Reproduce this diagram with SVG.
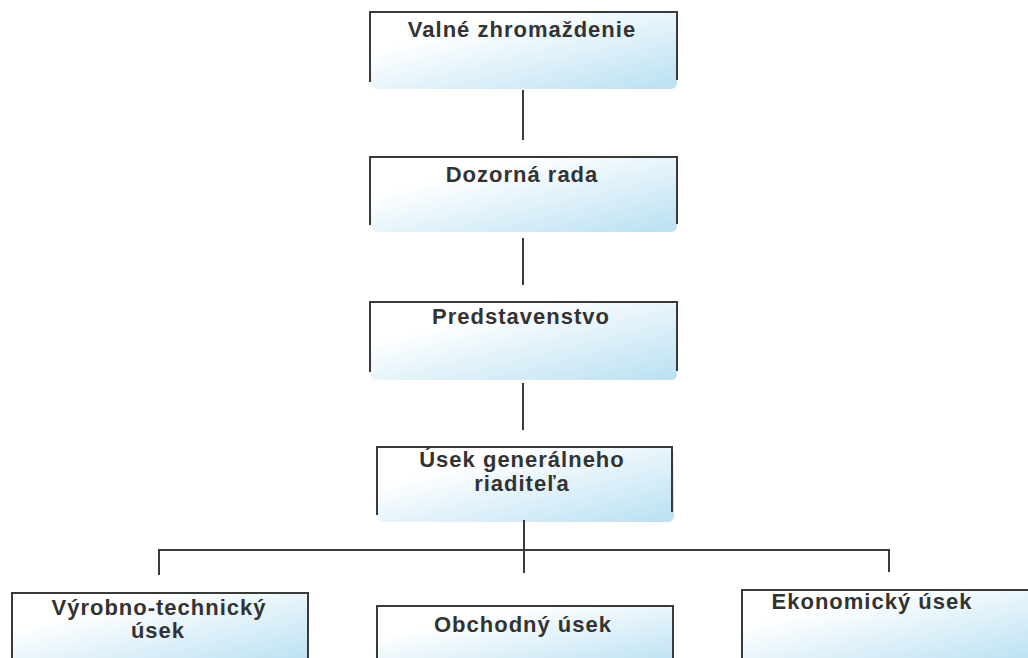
<svg xmlns="http://www.w3.org/2000/svg" width="1028" height="658" viewBox="0 0 1028 658">
<defs>
<linearGradient id="g" x1="0" y1="0" x2="1" y2="1">
<stop offset="0.25" stop-color="#ffffff"/>
<stop offset="1" stop-color="#b9e0f2"/>
</linearGradient>
<style>
.b{fill:none;stroke:#3a3a3a;stroke-width:2}
.f{fill:url(#g)}
.t{font-family:"Liberation Sans",Arial,sans-serif;font-weight:bold;font-size:22px;letter-spacing:1px;fill:#333;text-anchor:middle}
.c{fill:none;stroke:#3a3a3a;stroke-width:2}
</style>
</defs>
<rect width="1028" height="658" fill="#fff"/>
<g id="n1">
<rect class="f" x="371" y="13" width="306" height="76" rx="6"/>
<path class="b" d="M370 82V12H677V80"/>
<text class="t" x="522" y="37">Valné zhromaždenie</text>
</g>
<g id="n2">
<rect class="f" x="371" y="158" width="306" height="74" rx="6"/>
<path class="b" d="M370 225V157H677V224"/>
<text class="t" x="522" y="182">Dozorná rada</text>
</g>
<g id="n3">
<rect class="f" x="371" y="303" width="306" height="77" rx="6"/>
<path class="b" d="M370 372V302H677V371"/>
<text class="t" x="521" y="324">Predstavenstvo</text>
</g>
<g id="n4">
<rect class="f" x="378" y="448" width="296" height="74" rx="6"/>
<path class="b" d="M377 515V447H672V512"/>
<text class="t" x="522" y="467">Úsek generálneho</text>
<text class="t" x="522" y="491">riaditeľa</text>
</g>
<g id="n5">
<rect class="f" x="13" y="594" width="295" height="70" rx="6"/>
<path class="b" d="M12 660V593H308V660"/>
<text class="t" x="159" y="615">Výrobno-technický</text>
<text class="t" x="158" y="638">úsek</text>
</g>
<g id="n6">
<rect class="f" x="378" y="607" width="295" height="60" rx="6"/>
<path class="b" d="M377 660V606H673V660"/>
<text class="t" x="523" y="632">Obchodný úsek</text>
</g>
<g id="n7">
<rect class="f" x="743" y="591" width="300" height="70" rx="6"/>
<path class="b" d="M742 660V590H1030"/>
<text class="t" x="872" y="609">Ekonomický úsek</text>
</g>
<g id="connectors">
<path class="c" d="M523 90V140"/>
<path class="c" d="M523 238V285"/>
<path class="c" d="M523 383V430"/>
<path class="c" d="M524 520V573"/>
<path class="c" d="M159 575V550H889V572"/>
</g>
</svg>
